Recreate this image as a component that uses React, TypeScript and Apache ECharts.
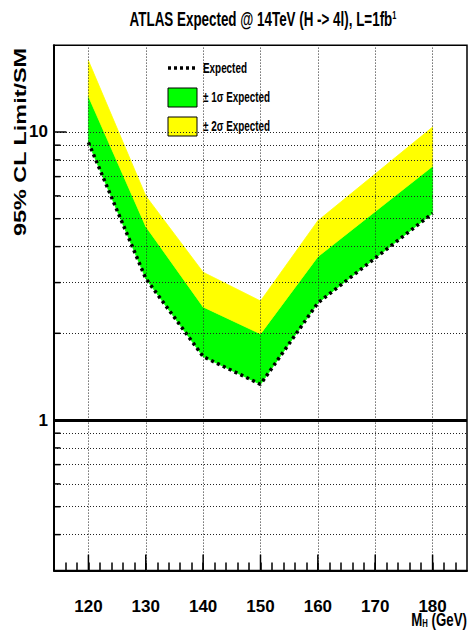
import React, { useEffect, useRef } from 'react';
import * as echarts from 'echarts';

// ---- data ----
const massPoints = [120, 130, 140, 150, 160, 180];
const expectedLimit = [9.2, 3.1, 1.66, 1.33, 2.55, 5.22];
const plus1Sigma = [13.3, 4.7, 2.47, 1.99, 3.69, 7.6];
const plus2Sigma = [17.7, 6.0, 3.26, 2.59, 4.92, 10.4];

const xMajorTicks = [120, 130, 140, 150, 160, 170, 180];
const yMinorTicks = [0.4, 0.5, 0.6, 0.7, 0.8, 0.9, 2, 3, 4, 5, 6, 7, 8, 9];
const yMajorTicks = [1, 10];
const yGridValues = [0.4, 0.5, 0.6, 0.7, 0.8, 0.9, 2, 3, 4, 5, 6, 7, 8, 9, 10];
const smLine = [1];

const X_MIN = 114;
const X_MAX = 186;
const Y_MIN = 0.3;
const Y_MAX = 20;

const SANS = "'Liberation Sans', Arial, Helvetica, sans-serif";

function bandSegments(lo: number[], hi: number[]) {
  return massPoints.slice(0, -1).map((m, i) => [m, massPoints[i + 1], lo[i], lo[i + 1], hi[i], hi[i + 1]]);
}

function bandSeries(name: string, lo: number[], hi: number[], color: string) {
  return {
    name,
    type: 'custom',
    data: bandSegments(lo, hi),
    encode: { x: [0, 1], y: [2, 3, 4, 5] },
    z: 2,
    silent: true,
    renderItem: (params: any, api: any) => {
      const a = api.coord([api.value(0), api.value(2)]);
      const b = api.coord([api.value(1), api.value(3)]);
      const c = api.coord([api.value(1), api.value(5)]);
      const d = api.coord([api.value(0), api.value(4)]);
      return {
        type: 'polygon',
        shape: { points: [a, b, c, d] },
        style: { fill: color, stroke: color, lineWidth: 0.8 },
      };
    },
  };
}

export default function App() {
  const ref = useRef<HTMLDivElement>(null);

  useEffect(() => {
    document.body.style.margin = '0';
    if (!ref.current) return;
    const chart = echarts.init(ref.current, null, { renderer: 'svg' });

    const expectedData = massPoints.map((m, i) => [m, expectedLimit[i]]);

    // tick marks: [x, y, length, direction(0 = from left axis, 1 = from bottom axis)]
    const tickData: number[][] = [];
    yMinorTicks.forEach((v) => tickData.push([X_MIN, v, 6.5, 0]));
    yMajorTicks.forEach((v) => tickData.push([X_MIN, v, 12.5, 0]));
    xMajorTicks.forEach((v) => tickData.push([v, Y_MIN, 16, 1]));

    const option: any = {
      animation: false,
      backgroundColor: '#ffffff',
      grid: {
        left: 54,
        right: 6,
        top: 45.3,
        bottom: 59.4,
        show: true,
        borderColor: '#000',
        borderWidth: 1.5,
        backgroundColor: 'transparent',
      },
      xAxis: {
        type: 'value',
        min: X_MIN,
        max: X_MAX,
        interval: 2,
        axisLine: { show: true, lineStyle: { color: '#000', width: 2 } },
        axisTick: { show: true, inside: true, length: 8, lineStyle: { color: '#000', width: 1.5 } },
        splitLine: { show: false },
        axisLabel: {
          margin: 27,
          color: '#000',
          fontSize: 17,
          fontWeight: 'bold',
          fontFamily: SANS,
          showMinLabel: false,
          showMaxLabel: false,
          formatter: (v: number) => (Math.round(v) % 10 === 0 ? String(Math.round(v)) : ''),
        },
      },
      yAxis: {
        type: 'log',
        logBase: 10,
        min: Y_MIN,
        max: Y_MAX,
        axisLine: { show: true, lineStyle: { color: '#000', width: 2 } },
        axisTick: { show: false },
        splitLine: { show: false },
        minorTick: { show: false },
        axisLabel: {
          margin: 6,
          color: '#000',
          fontSize: 17,
          fontWeight: 'bold',
          fontFamily: SANS,
          showMinLabel: false,
          showMaxLabel: false,
          formatter: (v: number) => String(v),
        },
      },
      series: [
        {
          name: 'grid',
          type: 'line',
          data: [],
          z: 1,
          silent: true,
          markLine: {
            silent: true,
            symbol: ['none', 'none'],
            label: { show: false },
            emphasis: { disabled: true },
            lineStyle: { type: [1, 2], color: '#222', width: 1 },
            data: [
              ...yGridValues.map((v) => ({ yAxis: v })),
              ...xMajorTicks.map((v) => ({ xAxis: v })),
              ...smLine.map((v) => ({ yAxis: v, lineStyle: { type: 'solid', color: '#000', width: 3 } })),
            ],
          },
        },
        bandSeries('± 1σ Expected', expectedLimit, plus1Sigma, '#00ff00'),
        bandSeries('± 2σ Expected', plus1Sigma, plus2Sigma, '#ffff00'),
        {
          name: 'Expected',
          type: 'line',
          data: expectedData,
          symbol: 'none',
          lineStyle: { color: '#000', width: 3.5, type: [3, 3.5] },
          z: 4,
          silent: true,
        },
        {
          name: 'ticks',
          type: 'custom',
          data: tickData,
          z: 5,
          silent: true,
          clip: false,
          encode: { x: 0, y: 1 },
          renderItem: (params: any, api: any) => {
            const x = api.value(0);
            const y = api.value(1);
            const len = api.value(2);
            const dir = api.value(3);
            const p = api.coord([x, y]);
            return {
              type: 'line',
              shape: {
                x1: p[0],
                y1: p[1],
                x2: dir === 0 ? p[0] + len : p[0],
                y2: dir === 1 ? p[1] - len : p[1],
              },
              style: { stroke: '#000', lineWidth: 1.5 },
            };
          },
        },
      ],
      graphic: [
        {
          type: 'text',
          x: 263,
          y: 20,
          scaleX: 0.67,
          style: {
            text: '{a|ATLAS Expected @ 14TeV (H -> 4l), L=1fb}{s|1}',
            align: 'center',
            verticalAlign: 'middle',
            fill: '#000',
            rich: {
              a: { fontSize: 20, fontWeight: 'bold', fontFamily: SANS, fill: '#000' },
              s: { fontSize: 11, fontWeight: 'bold', fontFamily: SANS, fill: '#000', verticalAlign: 'top' },
            },
          },
        },
        {
          type: 'text',
          x: 20,
          y: 142,
          rotation: Math.PI / 2,
          scaleX: 1.42,
          style: {
            text: '95% CL Limit/SM',
            align: 'center',
            verticalAlign: 'middle',
            fontSize: 16.5,
            fontWeight: 'bold',
            fontFamily: SANS,
            fill: '#000',
          },
        },
        {
          type: 'text',
          x: 467,
          y: 619,
          scaleX: 0.7,
          style: {
            text: '{m|M}{h|H}{m| (GeV)}',
            align: 'right',
            verticalAlign: 'middle',
            fill: '#000',
            rich: {
              m: { fontSize: 19, fontWeight: 'bold', fontFamily: SANS, fill: '#000', lineHeight: 19 },
              h: { fontSize: 11, fontWeight: 'bold', fontFamily: SANS, fill: '#000', verticalAlign: 'bottom' },
            },
          },
        },
        // legend
        {
          type: 'line',
          shape: { x1: 168, y1: 68, x2: 198, y2: 68 },
          style: { stroke: '#000', lineWidth: 3.5, lineDash: [3, 3] },
        },
        {
          type: 'text',
          x: 203,
          y: 68,
          scaleX: 0.66,
          style: {
            text: 'Expected',
            align: 'left',
            verticalAlign: 'middle',
            fontSize: 15,
            fontWeight: 'bold',
            fontFamily: SANS,
            fill: '#000',
          },
        },
        {
          type: 'rect',
          shape: { x: 168, y: 88, width: 29, height: 19 },
          style: { fill: '#00ff00', stroke: '#000', lineWidth: 1 },
        },
        {
          type: 'text',
          x: 203,
          y: 97,
          scaleX: 0.66,
          style: {
            text: '± 1σ Expected',
            align: 'left',
            verticalAlign: 'middle',
            fontSize: 15,
            fontWeight: 'bold',
            fontFamily: SANS,
            fill: '#000',
          },
        },
        {
          type: 'rect',
          shape: { x: 168, y: 117, width: 29, height: 19 },
          style: { fill: '#ffff00', stroke: '#000', lineWidth: 1 },
        },
        {
          type: 'text',
          x: 203,
          y: 126,
          scaleX: 0.66,
          style: {
            text: '± 2σ Expected',
            align: 'left',
            verticalAlign: 'middle',
            fontSize: 15,
            fontWeight: 'bold',
            fontFamily: SANS,
            fill: '#000',
          },
        },
      ],
    };

    chart.setOption(option);
    return () => {
      chart.dispose();
    };
  }, []);

  return <div ref={ref} style={{ width: 473, height: 630 }} />;
}
